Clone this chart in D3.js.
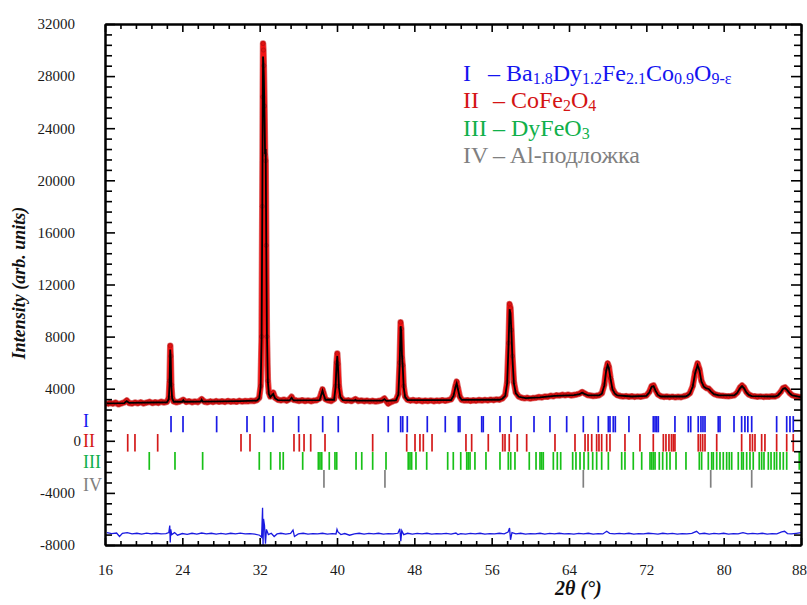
<!DOCTYPE html>
<html><head><meta charset="utf-8">
<script src="https://cdn.jsdelivr.net/npm/d3@7"></script>
<style>body{margin:0;background:#fff} text{font-family:"Liberation Serif","Times New Roman",serif}</style>
</head><body><svg id="c" width="807" height="605"></svg>
<script>
// ---------- DATA ----------
const observed = [[16.2,2820],[16.5,2900],[16.8,2850],[17.1,2930],[17.4,2800],[17.7,2880],[18.0,2950],[18.25,3100],[18.5,2900],[18.8,2860],[19.1,2940],[19.4,2880],[19.7,2960],[20.0,2870],[20.3,2930],[20.6,2990],[20.9,2900],[21.2,2960],[21.5,2910],[21.8,3000],[22.1,2940],[22.4,2990],[22.6,3300],[22.68,4600],[22.75,7300],[22.8,6500],[22.86,4300],[22.95,3300],[23.1,3020],[23.4,2960],[23.7,3010],[24.1,3150],[24.4,2980],[24.7,3040],[25.0,2960],[25.3,3020],[25.6,2970],[26.0,3200],[26.3,3000],[26.6,2960],[26.9,3030],[27.2,2980],[27.5,3050],[27.8,2990],[28.1,3040],[28.4,2980],[28.7,3060],[29.0,3000],[29.3,3040],[29.6,2990],[29.9,3070],[30.2,3010],[30.5,3060],[30.8,3030],[31.1,3080],[31.4,3050],[31.7,3120],[31.95,3300],[32.1,4200],[32.2,8000],[32.27,18000],[32.32,26400],[32.35,30500],[32.39,30000],[32.43,28800],[32.5,25700],[32.56,22000],[32.62,21500],[32.68,15000],[32.75,8000],[32.85,4600],[32.95,3700],[33.1,3400],[33.4,3700],[33.6,3300],[33.9,3150],[34.2,3100],[34.5,3160],[34.8,3080],[35.1,3200],[35.3,3380],[35.5,3150],[35.8,3100],[36.1,3060],[36.4,3120],[36.7,3050],[37.0,3100],[37.3,3040],[37.6,3090],[37.9,3120],[38.2,3250],[38.4,3700],[38.5,3950],[38.6,3700],[38.8,3200],[39.1,3100],[39.4,3060],[39.7,3200],[39.85,4200],[39.95,6000],[40.03,6700],[40.1,5900],[40.2,4200],[40.35,3400],[40.6,3150],[40.9,3070],[41.2,3110],[41.5,3050],[41.9,3200],[42.2,3060],[42.5,3100],[42.8,3040],[43.1,3090],[43.4,3030],[43.7,3070],[44.0,3020],[44.3,3060],[44.6,3100],[44.9,3250],[45.1,3050],[45.3,2850],[45.5,2950],[45.8,3040],[46.1,3100],[46.35,3600],[46.48,6000],[46.58,9100],[46.65,8600],[46.72,6400],[46.8,5800],[46.9,4200],[47.05,3400],[47.3,3150],[47.6,3080],[47.9,3130],[48.2,3060],[48.5,3110],[48.8,3040],[49.1,3090],[49.4,3050],[49.7,3100],[50.0,3040],[50.3,3090],[50.6,3060],[50.9,3120],[51.2,3070],[51.5,3120],[51.8,3180],[52.05,3500],[52.25,4200],[52.38,4550],[52.5,4100],[52.7,3400],[52.9,3150],[53.2,3090],[53.5,3120],[53.8,3060],[54.1,3110],[54.4,3080],[54.7,3130],[55.0,3090],[55.3,3140],[55.6,3100],[55.9,3160],[56.2,3120],[56.5,3180],[56.8,3160],[57.1,3250],[57.4,3500],[57.6,4500],[57.75,7500],[57.85,10500],[57.95,10200],[58.05,8500],[58.15,6500],[58.3,4500],[58.5,3700],[58.8,3400],[59.1,3300],[59.4,3260],[59.7,3300],[60.0,3240],[60.3,3290],[60.6,3310],[60.9,3360],[61.2,3330],[61.5,3400],[61.8,3380],[62.1,3460],[62.4,3420],[62.7,3500],[63.0,3470],[63.3,3530],[63.6,3490],[63.9,3540],[64.2,3480],[64.5,3520],[64.8,3560],[65.1,3620],[65.35,3750],[65.6,3650],[65.9,3520],[66.2,3480],[66.5,3440],[66.8,3460],[67.1,3500],[67.4,3650],[67.65,4300],[67.85,5500],[68.0,5950],[68.12,5700],[68.3,4800],[68.5,4000],[68.75,3650],[69.0,3500],[69.3,3440],[69.6,3400],[69.9,3430],[70.2,3380],[70.5,3420],[70.8,3370],[71.1,3410],[71.4,3380],[71.7,3430],[72.0,3480],[72.3,3750],[72.55,4200],[72.75,4250],[72.95,3900],[73.2,3550],[73.5,3420],[73.8,3370],[74.1,3400],[74.4,3350],[74.7,3390],[75.0,3340],[75.3,3380],[75.6,3350],[75.9,3420],[76.2,3480],[76.5,3650],[76.8,4200],[77.05,5300],[77.3,5950],[77.5,5500],[77.7,4600],[77.95,4200],[78.2,4050],[78.45,4000],[78.7,3800],[79.0,3600],[79.3,3520],[79.6,3480],[79.9,3460],[80.2,3430],[80.5,3420],[80.8,3450],[81.1,3500],[81.4,3700],[81.7,4100],[81.9,4250],[82.1,4100],[82.35,3750],[82.6,3550],[82.9,3450],[83.2,3420],[83.5,3380],[83.8,3410],[84.1,3370],[84.4,3400],[84.7,3380],[85.0,3420],[85.3,3400],[85.6,3500],[85.9,3750],[86.15,4050],[86.35,4100],[86.6,3900],[86.85,3650],[87.1,3500],[87.4,3420],[87.7,3380],[88.0,3350]];

const calculated = [[16.2,2880],[18.0,2900],[18.25,3050],[18.5,2910],[22.4,2960],[22.6,3200],[22.68,4400],[22.75,7000],[22.8,6300],[22.86,4200],[22.95,3250],[23.1,3000],[24.0,3000],[24.1,3120],[24.2,3000],[25.9,3010],[26.0,3150],[26.1,3010],[30.0,3040],[31.7,3080],[31.95,3250],[32.1,4100],[32.2,7800],[32.27,17500],[32.32,26000],[32.35,29500],[32.39,29000],[32.43,28000],[32.5,25000],[32.56,22000],[32.62,22400],[32.68,15500],[32.75,8200],[32.85,4500],[32.95,3600],[33.1,3350],[33.4,3600],[33.6,3250],[33.9,3120],[35.1,3100],[35.3,3300],[35.5,3100],[38.2,3120],[38.4,3600],[38.5,3850],[38.6,3600],[38.8,3150],[39.7,3150],[39.85,4100],[39.95,5800],[40.03,6500],[40.1,5700],[40.2,4100],[40.35,3350],[40.6,3120],[41.8,3080],[41.9,3150],[42.0,3080],[44.7,3080],[44.9,3200],[45.1,3070],[46.1,3100],[46.35,3550],[46.48,5800],[46.58,8800],[46.65,8400],[46.72,6600],[46.8,5700],[46.9,4100],[47.05,3350],[47.3,3130],[51.8,3130],[52.05,3450],[52.25,4100],[52.38,4400],[52.5,4000],[52.7,3350],[52.9,3140],[56.8,3150],[57.1,3230],[57.4,3450],[57.6,4400],[57.75,7400],[57.85,10100],[57.95,9800],[58.05,8200],[58.15,6300],[58.3,4400],[58.5,3650],[58.8,3380],[59.5,3280],[61.0,3330],[62.5,3450],[64.5,3500],[65.1,3580],[65.35,3700],[65.6,3600],[66.0,3480],[67.1,3480],[67.4,3620],[67.65,4250],[67.85,5400],[68.0,5800],[68.12,5600],[68.3,4750],[68.5,3950],[68.75,3620],[69.0,3480],[70.5,3400],[72.0,3450],[72.3,3700],[72.55,4150],[72.75,4200],[72.95,3850],[73.2,3520],[73.5,3400],[76.0,3400],[76.2,3450],[76.5,3620],[76.8,4150],[77.05,5200],[77.3,5800],[77.5,5400],[77.7,4550],[77.95,4150],[78.2,4020],[78.45,3980],[78.7,3780],[79.0,3580],[79.5,3480],[81.1,3480],[81.4,3680],[81.7,4050],[81.9,4200],[82.1,4050],[82.35,3720],[82.6,3520],[82.9,3430],[85.3,3400],[85.6,3480],[85.9,3720],[86.15,4000],[86.35,4050],[86.6,3870],[86.85,3630],[87.1,3480],[88.0,3350]];

const difference = [[16.2,-7050],[16.7,-7120],[17.2,-7080],[17.5,-7350],[17.8,-7100],[18.3,-7050],[18.8,-7150],[19.3,-7100],[19.8,-7170],[20.3,-7090],[20.8,-7140],[21.3,-7100],[21.8,-7150],[22.3,-7120],[22.6,-7050],[22.7,-6500],[22.75,-7800],[22.8,-6800],[22.9,-7200],[23.2,-7050],[23.5,-7250],[24.0,-7120],[24.5,-7180],[25.0,-7100],[25.5,-7160],[26.0,-7080],[26.5,-7150],[27.0,-7100],[27.5,-7170],[28.0,-7110],[28.5,-7160],[29.0,-7100],[29.5,-7140],[30.0,-7090],[30.5,-7150],[31.0,-7120],[31.5,-7170],[32.0,-7250],[32.2,-7400],[32.3,-5150],[32.35,-8000],[32.4,-6000],[32.5,-6500],[32.6,-7900],[32.7,-6800],[32.9,-7200],[33.2,-7100],[33.5,-7350],[33.8,-7150],[34.2,-7100],[34.7,-7160],[35.2,-7100],[35.45,-6850],[35.6,-7350],[36.0,-7150],[36.5,-7100],[37.0,-7160],[37.5,-7120],[38.0,-7150],[38.5,-7100],[39.0,-7170],[39.5,-7120],[39.9,-7150],[40.0,-6800],[40.1,-7000],[40.4,-7200],[40.8,-7120],[41.3,-7250],[41.8,-7150],[42.3,-7100],[42.8,-7160],[43.3,-7110],[43.8,-7150],[44.3,-7100],[44.8,-7160],[45.3,-7120],[45.8,-7150],[46.3,-7100],[46.5,-6750],[46.6,-7700],[46.7,-6900],[46.9,-7200],[47.3,-7100],[47.8,-7160],[48.3,-7110],[48.8,-7140],[49.3,-7100],[49.8,-7160],[50.3,-7120],[50.8,-7150],[51.3,-7110],[51.8,-7160],[52.3,-7080],[52.5,-7200],[52.8,-7120],[53.3,-7160],[53.8,-7110],[54.3,-7150],[54.8,-7100],[55.3,-7170],[55.8,-7120],[56.3,-7150],[56.8,-7100],[57.3,-7150],[57.7,-7000],[57.85,-6700],[57.95,-7600],[58.1,-7050],[58.5,-7150],[59.0,-7100],[59.5,-7160],[60.0,-7120],[60.5,-7150],[61.0,-7100],[61.5,-7160],[62.0,-7110],[62.5,-7150],[63.0,-7100],[63.5,-7140],[64.0,-7120],[64.5,-7160],[65.0,-7110],[65.5,-7150],[66.0,-7100],[66.5,-7160],[67.0,-7120],[67.5,-7150],[67.9,-6950],[68.2,-7100],[68.7,-7150],[69.2,-7110],[69.7,-7150],[70.2,-7100],[70.7,-7160],[71.2,-7120],[71.7,-7150],[72.2,-7100],[72.7,-7130],[73.2,-7160],[73.7,-7100],[74.2,-7150],[74.7,-7110],[75.2,-7160],[75.7,-7120],[76.2,-7150],[76.7,-7100],[77.2,-6950],[77.5,-7150],[78.0,-7100],[78.5,-7160],[79.0,-7110],[79.5,-7150],[80.0,-7100],[80.5,-7160],[81.0,-7120],[81.5,-7150],[82.0,-7050],[82.5,-7150],[83.0,-7110],[83.5,-7150],[84.0,-7100],[84.5,-7160],[85.0,-7120],[85.5,-7150],[86.0,-7000],[86.3,-6950],[86.6,-7120],[87.0,-7150],[87.5,-7100],[88.0,-7050]];

const ticksI = [22.83,24.07,27.55,30.69,32.48,33.38,36.03,38.52,40.13,45.3,46.59,46.8,47.27,49.34,51.2,52.55,52.72,54.97,55.13,56.86,58.0,60.38,62.03,63.76,65.48,67.03,68.07,68.24,68.58,68.79,70.2,72.72,72.9,73.07,73.24,74.96,76.34,76.59,77.37,77.65,77.86,78.07,79.44,79.62,81.07,81.86,82.2,82.5,82.9,85.48,86.52,86.86,87.2];
const ticksII = [18.35,19.1,21.45,30.07,31.0,35.55,36.1,36.59,37.28,38.76,43.69,47.21,48.07,48.58,48.93,49.83,53.34,53.93,55.65,57.14,57.38,57.82,58.65,59.62,62.55,64.62,65.66,65.97,66.35,66.86,67.1,67.38,67.9,68.24,69.79,71.34,72.72,73.76,74.03,74.34,74.6,74.79,74.96,77.37,77.6,77.83,78.07,79.28,81.86,82.72,82.98,83.24,83.93,84.27,85.48,86.52,87.2];
const ticksIII = [20.58,23.24,26.1,31.96,33.14,34.1,34.44,36.45,38.07,38.24,38.42,39.2,39.79,39.97,41.97,42.56,43.69,45.07,47.37,47.55,47.72,48.17,49.28,51.45,52.03,52.8,53.42,53.58,53.76,54.27,55.41,56.86,57.72,57.97,58.41,59.89,60.59,61.0,61.17,61.34,62.38,62.79,63.14,64.38,64.72,65.14,65.55,66.0,66.45,66.86,67.38,68.07,69.45,69.79,70.65,71.52,72.38,72.55,72.72,72.9,73.34,73.69,74.11,74.45,75.07,76.1,77.48,77.72,78.41,78.76,78.93,79.28,79.62,79.96,80.31,80.58,80.83,81.51,81.86,82.03,82.38,82.72,83.06,83.68,83.93,84.17,84.62,84.9,85.24,85.48,85.83,86.17,86.52,87.82];
const ticksIV = [38.65,44.96,65.48,78.66,82.9];

// row extents (intensity units) for each phase's reflection markers
const rowRanges = [[650,1900],[-830,520],[-2230,-860],[-3600,-2240]];

const xTicks = [16,24,32,40,48,56,64,72,80,88];
const yTicks = [-8000,-4000,0,4000,8000,12000,16000,20000,24000,28000,32000];
const phaseLabels = ["I","II","III","IV"];
const phaseColors = ["#1414f0","#d41414","#10b04a","#808080"];
const tickColors = ["#1a1ae6","#d41a1a","#18c018","#808080"];
const legendFormulas = [
  [["Ba",0],["1.8",1],["Dy",0],["1.2",1],["Fe",0],["2.1",1],["Co",0],["0.9",1],["O",0],["9-ε",1]],
  [["CoFe",0],["2",1],["O",0],["4",1]],
  [["DyFeO",0],["3",1]],
  [["Al-подложка",0]]
];
const xTitle = "2θ (°)";
const yTitle = "Intensity (arb. units)";

// ---------- CHART ----------
const svg = d3.select("#c");
const x = d3.scaleLinear().domain([16,88]).range([105,801]);
const y = d3.scaleLinear().domain([-8000,32000]).range([545,24]);

svg.append("defs").append("clipPath").attr("id","clip")
  .append("rect").attr("x",105).attr("y",24).attr("width",696).attr("height",521);
const plot = svg.append("g").attr("clip-path","url(#clip)");

// reflection markers
[ticksI,ticksII,ticksIII,ticksIV].forEach((arr,i)=>{
  plot.append("g").selectAll("line").data(arr).join("line")
    .attr("x1",d=>x(d)).attr("x2",d=>x(d))
    .attr("y1",y(rowRanges[i][0])).attr("y2",y(rowRanges[i][1]))
    .attr("stroke",tickColors[i]).attr("stroke-width",1.7);
});

const line = d3.line().x(d=>x(d[0])).y(d=>y(d[1]));
// difference
plot.append("path").attr("d",line(difference)).attr("fill","none")
  .attr("stroke","#1a1ae0").attr("stroke-width",1.3);
// observed
plot.append("path").attr("d",line(observed)).attr("fill","none")
  .attr("stroke","#c00c0c").attr("stroke-width",6.5).attr("stroke-linejoin","round").attr("opacity",0.6);
plot.append("path").attr("d",line(observed)).attr("fill","none")
  .attr("stroke","#f21212").attr("stroke-width",5).attr("stroke-linejoin","round");
plot.append("g").selectAll("circle").data(observed).join("circle")
  .attr("cx",d=>x(d[0])).attr("cy",d=>y(d[1])).attr("r",2.1)
  .attr("fill","#e21010").attr("stroke","#9a1010").attr("stroke-width",0.5);
// calculated
plot.append("path").attr("d",line(calculated)).attr("fill","none")
  .attr("stroke","#000").attr("stroke-width",1.8);

// axes
const xMinor = d3.range(16,88.01,1.6).filter(v=>!xTicks.some(t=>Math.abs(t-v)<1e-6));
const yMinor = d3.range(-8000,32001,800).filter(v=>!yTicks.includes(v));
const fmt = d=>String(d);

function styleAxis(g){
  g.select(".domain").attr("stroke","#000").attr("stroke-width",2);
  g.selectAll(".tick line").attr("stroke","#000").attr("stroke-width",1.6);
  g.selectAll(".tick text").attr("fill","#1a1a1a").style("font-size","15px")
   .style("font-family","'Liberation Serif','Times New Roman',serif");
}
// bottom
const gb = svg.append("g").attr("transform","translate(0,545)")
  .call(d3.axisBottom(x).tickValues(xTicks).tickFormat(fmt).tickSize(-7).tickSizeOuter(0).tickPadding(19))
  .call(styleAxis);
gb.selectAll(".tick text").filter(d=>d===88).attr("dx",-2);
svg.append("g").attr("transform","translate(0,545)")
  .call(d3.axisBottom(x).tickValues(xMinor).tickFormat("").tickSize(-4).tickSizeOuter(0))
  .call(styleAxis);
// top
svg.append("g").attr("transform","translate(0,24)")
  .call(d3.axisTop(x).tickValues(xTicks).tickFormat("").tickSize(-8).tickSizeOuter(0))
  .call(styleAxis);
svg.append("g").attr("transform","translate(0,24)")
  .call(d3.axisTop(x).tickValues(xMinor).tickFormat("").tickSize(-5).tickSizeOuter(0))
  .call(styleAxis);
// left
const gl = svg.append("g").attr("transform","translate(105,0)")
  .call(d3.axisLeft(y).tickValues(yTicks).tickFormat(fmt).tickSize(-10).tickSizeOuter(0).tickPadding(30))
  .call(styleAxis);
gl.selectAll(".tick text").filter(d=>d===0).attr("dx",6);
svg.append("g").attr("transform","translate(105,0)")
  .call(d3.axisLeft(y).tickValues(yMinor).tickFormat("").tickSize(-7).tickSizeOuter(0))
  .call(styleAxis);
// right
svg.append("g").attr("transform","translate(801,0)")
  .call(d3.axisRight(y).tickValues(yTicks).tickFormat("").tickSize(-10).tickSizeOuter(0))
  .call(styleAxis);
svg.append("g").attr("transform","translate(801,0)")
  .call(d3.axisRight(y).tickValues(yMinor).tickFormat("").tickSize(-7).tickSizeOuter(0))
  .call(styleAxis);

// row labels
const rowLabelY = [427, 447, 468, 491];
svg.append("g").selectAll("text").data(phaseLabels).join("text")
  .attr("x",83).attr("y",(d,i)=>rowLabelY[i]).text(d=>d)
  .attr("fill",(d,i)=>phaseColors[i]).style("font-size","18px");

// legend
const lg = svg.append("g");
legendFormulas.forEach((segs,i)=>{
  const by = 81 + i*27.3;
  lg.append("text").attr("x",463).attr("y",by).attr("fill",phaseColors[i])
    .style("font-size","24px").text(phaseLabels[i]);
  const t = lg.append("text").attr("x", i===0?488:493).attr("y",by).attr("fill",phaseColors[i])
    .style("font-size","24px");
  t.append("tspan").text("– ");
  let prevSub = 0;
  segs.forEach(([s,sub])=>{
    const ts = t.append("tspan").text(s).style("font-size", sub?"16px":"24px");
    const dy = (sub?3:0) - (prevSub?3:0);
    if (dy) ts.attr("dy",dy);
    prevSub = sub;
  });
});

// axis titles
svg.append("text").attr("x",555).attr("y",595).text(xTitle)
  .style("font-size","20px").style("font-weight","bold").style("font-style","italic").attr("fill","#111");
svg.append("text").attr("transform","translate(25,283) rotate(-90)").attr("text-anchor","middle")
  .text(yTitle).style("font-size","18px").style("font-weight","bold").style("font-style","italic").attr("fill","#111");
</script></body></html>
